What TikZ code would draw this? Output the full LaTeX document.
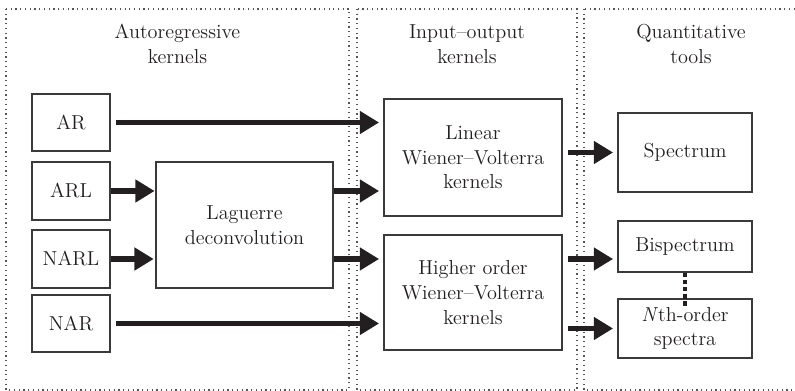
\documentclass[tikz,border=0pt]{standalone}
\usepackage{xcolor}
\usepackage{tikz}
\usetikzlibrary{arrows.meta}
\definecolor{ink}{HTML}{231F20}
\definecolor{frame}{HTML}{3A3A3A}
\definecolor{panel}{HTML}{555555}
\tikzset{
  kbox/.style={draw=frame,line width=0.6pt,fill=white,align=center,text=ink,font=\fontsize{11.5}{14}\selectfont,inner sep=2pt},
  pane/.style={draw=panel,dotted,line width=0.7pt},
  ttl/.style={align=center,text=ink,font=\fontsize{11.5}{14}\selectfont},
  arr/.style={-{Triangle[length=11pt,width=12.5pt]},line width=3.4pt,color=ink,shorten <=3pt,shorten >=2.5pt}}
\begin{document}
\begin{tikzpicture}[x=0.02cm,y=-0.02cm]
\useasboundingbox (0,0) rectangle (795,391);
% three panels
\draw[pane] (6,9) rectangle (349,390);
\draw[pane] (357,9) rectangle (577,390);
\draw[pane] (584,9) rectangle (797,390);
\node[ttl] (t1) at (177.5,44) {Autoregressive\\kernels};
\node[ttl] (t2) at (467,44) {Input--output\\kernels};
\node[ttl] (t3) at (691,44) {Quantitative\\tools};
% autoregressive side
\node[kbox,minimum width=1.56cm,minimum height=1.14cm] (ar) at (71,122.5) {AR};
\node[kbox,minimum width=1.56cm,minimum height=1.16cm] (arl) at (71,191) {ARL};
\node[kbox,minimum width=1.56cm,minimum height=1.16cm] (narl) at (71,259) {NARL};
\node[kbox,minimum width=1.56cm,minimum height=1.14cm] (nar) at (71,323.5) {NAR};
\node[kbox,minimum width=3.54cm,minimum height=2.52cm] (lag) at (244.5,225) {Laguerre\\deconvolution};
% input-output side
\node[kbox,minimum width=3.56cm,minimum height=2.34cm] (lin) at (473,157.5) {Linear\\Wiener--Volterra\\kernels};
\node[kbox,minimum width=3.56cm,minimum height=2.30cm] (hig) at (473,292.5) {Higher order\\Wiener--Volterra\\kernels};
% tools
\node[kbox,minimum width=2.68cm,minimum height=1.58cm] (spec) at (685,152.5) {Spectrum};
\node[kbox,minimum width=2.68cm,minimum height=1.02cm] (bisp) at (685,246.5) {Bispectrum};
\node[kbox,minimum width=2.68cm,minimum height=1.18cm] (nth) at (685,328.5) {\textit{N}th-order\\spectra};
\draw[ink,dash pattern=on 2.5pt off 1.6pt,line width=2pt] (bisp.south) -- ([yshift=-0.18cm]nth.north);
% arrows
\draw[arr] (ar.east) -- (lin.west |- ar.east);
\draw[arr,shorten <=0pt,shorten >=0.5pt] (arl.east) -- (lag.west |- arl.east);
\draw[arr,shorten <=0pt,shorten >=1pt] (narl.east) -- (lag.west |- narl.east);
\draw[arr] (nar.east) -- (hig.west |- nar.east);
\draw[arr,shorten <=0pt] (lag.east |- arl) -- (lin.west |- arl);
\draw[arr,shorten <=0pt] (lag.east |- narl) -- (hig.west |- narl);
\draw[arr] (lin.east |- spec) -- (spec.west);
\draw[arr] (hig.east |- narl) -- (bisp.west |- narl);
\draw[arr] (hig.east |- nth) -- (nth.west);
\end{tikzpicture}
\end{document}
